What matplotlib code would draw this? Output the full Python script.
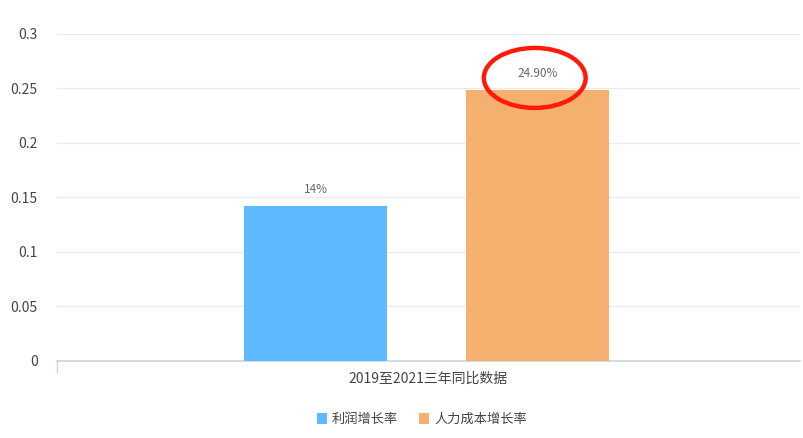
import matplotlib.pyplot as plt
from matplotlib.patches import Ellipse

plt.rcParams['font.family'] = ['Noto Sans CJK SC', 'DejaVu Sans']

# 数据
category = '2019至2021三年同比数据'
series_names = ['利润增长率', '人力成本增长率']
values = [0.142, 0.249]
value_labels = ['14%', '24.90%']
colors = ['#5eb9ff', '#f5b06f']
yticks = [0, 0.05, 0.1, 0.15, 0.2, 0.25, 0.3]
ytick_labels = ['0', '0.05', '0.1', '0.15', '0.2', '0.25', '0.3']

fig = plt.figure(figsize=(8.04, 4.38), dpi=100)
ax = fig.add_axes([0.0709, 0.1758, 0.9241, 0.7466])

# 막대 위치 (한 카테고리 안에 두 막대)
centers = [0.348, 0.647]
bar_w = 0.192
for c, v, col, name, lab in zip(centers, values, colors, series_names, value_labels):
    ax.bar(c, v, width=bar_w, color=col, label=name, zorder=3)
    ax.text(c, v + 0.009, lab, ha='center', va='bottom', fontsize=8.5, color='#666666')

ax.set_xlim(0, 1)
ax.set_ylim(0, 0.3)
ax.set_yticks(yticks)
ax.set_yticklabels(ytick_labels, fontsize=10, color='#444444')
ax.yaxis.grid(True, color='#e6ebf1', linewidth=1, zorder=0)
ax.tick_params(axis='y', length=0, pad=14)

ax.set_xticks([0.5])
ax.set_xticklabels([category], fontsize=10, color='#444444')
ax.tick_params(axis='x', length=0, pad=8)
# 왼쪽 끝 카테고리 눈금
ax.plot([0, 0], [0, -0.01], color='#c9d6e3', linewidth=1, clip_on=False, zorder=4)

for s in ['top', 'right', 'left']:
    ax.spines[s].set_visible(False)
ax.spines['bottom'].set_color('#c9d6e3')
ax.spines['bottom'].set_linewidth(1.2)

# 빨간 타원 강조
ell = Ellipse((0.643, 0.2597), 0.137, 0.055, fill=False, edgecolor='#ff1a0a',
              linewidth=3.2, zorder=5, clip_on=False)
ax.add_patch(ell)

fig.legend(loc='lower center', bbox_to_anchor=(0.525, 0.0), ncol=2, frameon=False,
           fontsize=9.5, handlelength=0.75, handleheight=0.9, columnspacing=1.6,
           handletextpad=0.4, labelcolor='#444444')

fig.savefig('out.png', dpi=100)
